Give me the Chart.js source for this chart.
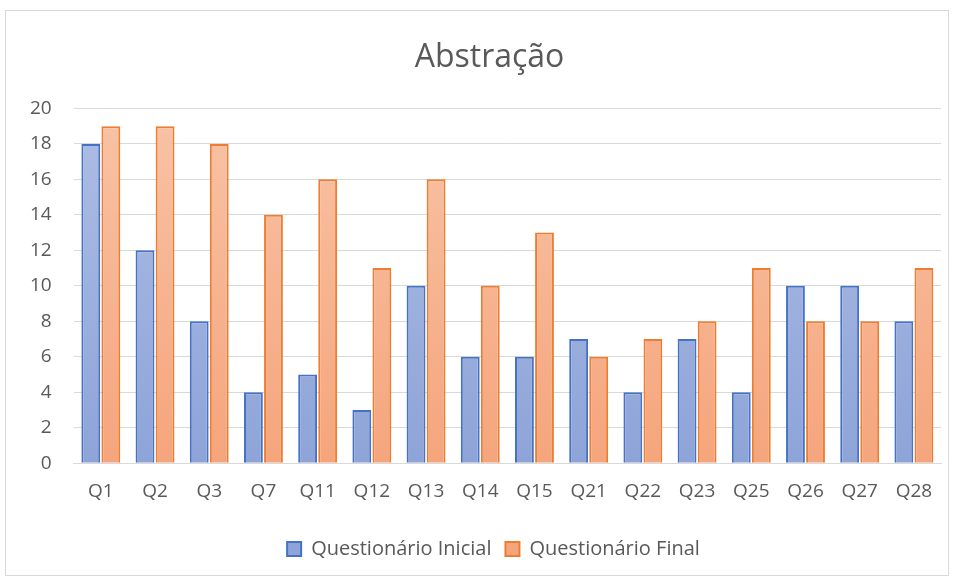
<!DOCTYPE html>
<html lang="pt">
<head>
  <meta charset="UTF-8">
  <title>Abstração</title>
  <script src="https://cdn.jsdelivr.net/npm/chart.js"></script>
  <style>
    body { margin: 0; background: #fff; }
    #box { position: absolute; left: 5px; top: 10px; width: 944px; height: 566px; border: 1px solid #d9d9d9; box-sizing: border-box; }
  </style>
</head>
<body>
  <div id="box"><canvas id="chart"></canvas></div>

  <script>
    const categories = ["Q1", "Q2", "Q3", "Q7", "Q11", "Q12", "Q13", "Q14", "Q15", "Q21", "Q22", "Q23", "Q25", "Q26", "Q27", "Q28"];
    const inicial = [18, 12, 8, 4, 5, 3, 10, 6, 6, 7, 4, 7, 4, 10, 10, 8];
    const final = [19, 19, 18, 14, 16, 11, 16, 10, 13, 6, 7, 8, 11, 8, 8, 11];

    // vertical gradient like the office chart fill
    function grad(top, bottom) {
      return function (c) {
        const area = c.chart.chartArea;
        if (!area) return bottom;
        const g = c.chart.ctx.createLinearGradient(0, area.top, 0, area.bottom);
        g.addColorStop(0, top);
        g.addColorStop(1, bottom);
        return g;
      };
    }

    // the original title and legend sit a little right of the canvas centre
    const nudge = {
      id: "nudge",
      afterLayout(chart) {
        const t = chart.titleBlock;
        if (t) { t.left += 15; t.right += 15; }
        const l = chart.legend;
        if (l) { l.left += 19; l.right += 19; }
      }
    };

    Chart.defaults.font.family = "'Open Sans', sans-serif";
    Chart.defaults.color = "#595959";

    new Chart(document.getElementById("chart"), {
      type: "bar",
      data: {
        labels: categories,
        datasets: [
          {
            label: "Questionário Inicial",
            data: inicial,
            backgroundColor: grad("#aebde4", "#8ea4d8"),
            borderColor: "#4472c4",
            borderWidth: 2
          },
          {
            label: "Questionário Final",
            data: final,
            backgroundColor: grad("#f8c3a6", "#f5a57c"),
            borderColor: "#ed7d31",
            borderWidth: 2
          }
        ]
      },
      plugins: [nudge],
      options: {
        responsive: true,
        maintainAspectRatio: false,
        animation: false,
        datasets: { bar: { categoryPercentage: 0.74, barPercentage: 0.94 } },
        layout: { padding: { left: 2, right: 7, top: 10, bottom: 6 } },
        plugins: {
          title: {
            display: true,
            text: "Abstração",
            font: { size: 32, weight: "normal" },
            color: "#595959",
            padding: { top: 18, bottom: 31 }
          },
          legend: {
            position: "bottom",
            labels: { boxWidth: 14, boxHeight: 14, font: { size: 20 }, padding: 14 }
          },
          tooltip: { enabled: false }
        },
        scales: {
          x: {
            grid: { display: false },
            border: { color: "#d9d9d9" },
            ticks: { font: { size: 19 }, padding: 9 },
            afterFit: (s) => { s.height += 13; }
          },
          y: {
            min: 0,
            max: 20,
            ticks: { stepSize: 2, font: { size: 19 }, padding: 22 },
            grid: { color: "#d9d9d9", drawTicks: false },
            border: { display: false }
          }
        }
      }
    });
  </script>
</body>
</html>
